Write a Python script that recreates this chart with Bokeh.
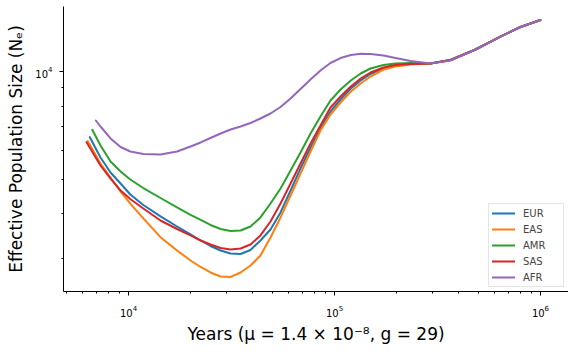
from bokeh.plotting import figure
from bokeh.models import FixedTicker, LogTickFormatter, Legend, LegendItem
from bokeh.embed import file_html
from bokeh.resources import INLINE

# Time grid (years) shared by the series after their first point
years = [7310, 8180, 9150, 10200, 11800, 14300, 17200, 20000, 22400, 25000,
         28000, 31300, 35000, 39100, 43700, 48900, 54700, 61200, 68400, 76500,
         85500, 95600, 107000, 120000, 134000, 149500, 173000, 197800, 234000,
         292000, 366000, 484000, 639000, 800000, 1000000]

populations = ["EUR", "EAS", "AMR", "SAS", "AFR"]
colors = ["#1f77b4", "#ff7f0e", "#2ca02c", "#d62728", "#9467bd"]

first_year = {"EUR": 6490, "EAS": 6345, "AMR": 6670, "SAS": 6255, "AFR": 6940}

ne_eur = [6552, 5749, 5218, 4861, 4529, 4233, 3932, 3686, 3501, 3368, 3251,
          3158, 3098, 3088, 3168, 3368, 3616, 4035, 4647, 5356, 6131, 6928,
          7729, 8351, 8964, 9437, 9840, 10228, 10394, 10495, 10528, 10768,
          11522, 12526, 13317, 13933]
ne_eas = [6385, 5531, 5053, 4617, 4273, 3882, 3441, 3158, 2961, 2840, 2741,
          2671, 2663, 2741, 2867, 3058, 3434, 3907, 4499, 5186, 5975, 6840,
          7581, 8191, 8792, 9257, 9683, 10130, 10327, 10461, 10528, 10768,
          11522, 12526, 13317, 13933]
ne_amr = [6871, 6211, 5601, 5253, 4988, 4722, 4428, 4166, 3975, 3844, 3722,
          3627, 3581, 3592, 3686, 3907, 4273, 4707, 5287, 5937, 6709, 7484,
          8297, 8905, 9437, 9872, 10195, 10427, 10528, 10563, 10528, 10768,
          11522, 12526, 13317, 13933]
ne_sas = [6344, 5459, 5020, 4647, 4399, 4140, 3831, 3627, 3479, 3368, 3283,
          3209, 3179, 3199, 3283, 3479, 3807, 4273, 4861, 5531, 6291, 7063,
          7931, 8513, 9080, 9559, 9936, 10261, 10427, 10495, 10528, 10768,
          11522, 12526, 13317, 13933]
ne_afr = [7294, 7018, 6497, 6151, 5975, 5880, 5861, 5975, 6171, 6332, 6518,
          6709, 6884, 7018, 7177, 7388, 7630, 7957, 8405, 8935, 9498, 10065,
          10563, 10907, 11120, 11207, 11193, 11085, 10907, 10699, 10528, 10734,
          11522, 12526, 13317, 13933]

ne_values = {"EUR": ne_eur, "EAS": ne_eas, "AMR": ne_amr, "SAS": ne_sas, "AFR": ne_afr}

x_major = [1e4, 1e5, 1e6]
x_minor = [m * d for d in (1e3, 1e4, 1e5) for m in range(2, 10)]
y_major = [1e4]
y_minor = [m * 1e3 for m in range(2, 10)]

p = figure(width=568, height=352, x_axis_type="log", y_axis_type="log",
           x_range=(4834, 1.368e6), y_range=(2425, 15199),
           output_backend="svg", toolbar_location=None,
           min_border_left=63, min_border_right=0, min_border_top=6,
           min_border_bottom=61)
p.outline_line_color = None
p.grid.visible = False
p.background_fill_color = "white"
p.border_fill_color = "white"

p.xaxis.ticker = FixedTicker(ticks=x_major, minor_ticks=x_minor)
p.yaxis.ticker = FixedTicker(ticks=y_major, minor_ticks=y_minor)
p.xaxis.formatter = LogTickFormatter()
p.yaxis.formatter = LogTickFormatter()

for ax in p.axis:
    ax.axis_line_color = "black"
    ax.axis_line_width = 1
    ax.major_tick_out = 4
    ax.major_tick_in = 0
    ax.minor_tick_out = 2
    ax.minor_tick_in = 0
    ax.major_tick_line_color = "black"
    ax.minor_tick_line_color = "black"
    ax.major_label_text_font = "DejaVu Sans"
    ax.major_label_text_font_size = "10px"
    ax.major_label_text_color = "black"
    ax.axis_label_text_font = "DejaVu Sans"
    ax.axis_label_text_font_size = "17px"
    ax.axis_label_text_font_style = "normal"
    ax.axis_label_text_color = "black"

p.xaxis.major_label_standoff = 9
p.yaxis.major_label_standoff = 7
p.xaxis.axis_label = "Years (μ = 1.4 × 10⁻⁸, g = 29)"
p.yaxis.axis_label = "Effective Population Size (Nₑ)"
p.xaxis.axis_label_standoff = 4
p.yaxis.axis_label_standoff = 6

items = []
for pop, col in zip(populations, colors):
    xs = [first_year[pop]] + years
    r = p.line(xs, ne_values[pop], line_color=col, line_width=2,
               line_join="round", line_cap="round")
    items.append(LegendItem(label=pop, renderers=[r]))

legend = Legend(items=items, location="bottom_right",
                label_text_font="DejaVu Sans", label_text_font_size="10px",
                glyph_width=23, glyph_height=12, label_height=12, label_width=37,
                spacing=4, padding=3, margin=4, label_standoff=8,
                border_line_color="#cccccc", border_line_width=1,
                background_fill_color="white", background_fill_alpha=0.8)
p.add_layout(legend)

open("out.html", "w").write(file_html(p, INLINE))
